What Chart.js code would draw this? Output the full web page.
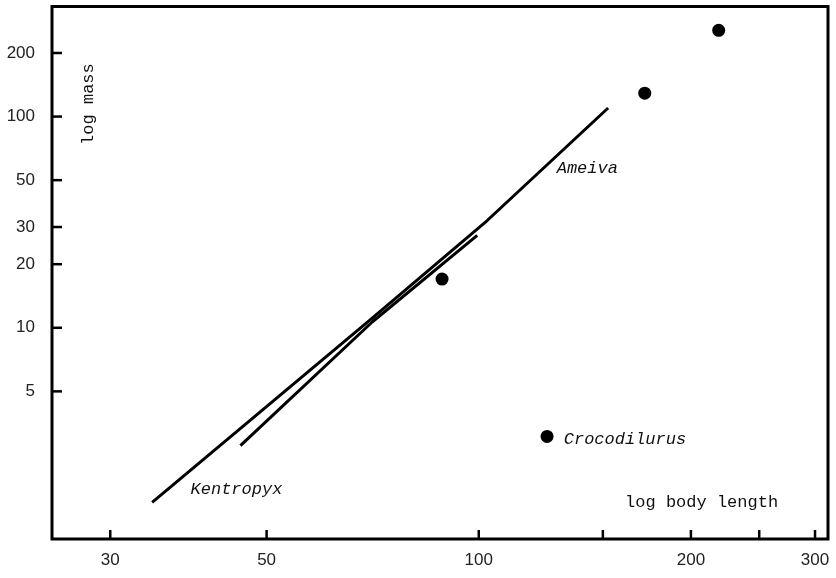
<!DOCTYPE html>
<html>
<head>
<meta charset="utf-8">
<script src="https://cdn.jsdelivr.net/npm/chart.js@4/dist/chart.umd.min.js"></script>
<style>
  body { margin: 0; background: #fff; }
  #wrap { width: 836px; height: 578px; }
</style>
</head>
<body>
<div id="wrap"><canvas id="chart"></canvas></div>
<script>
// axis ticks
const xTickValues = [30, 50, 100, 150, 200, 250, 300];
const xTickLabels = ["30", "50", "100", "", "200", "", "300"];
const yTickValues = [5, 10, 20, 30, 50, 100, 200];

// dots (body length, mass)
const dotLength = [219, 172, 88.7, 125];
const dotMass = [256, 129, 17.0, 3.06];

// long fitted line (Kentropyx -> Ameiva)
const longLineLength = [34.4, 70.6, 102.8, 152.6];
const longLineMass = [1.49, 11.1, 32.2, 109.8];

// short fitted line
const shortLineLength = [45.9, 70.6, 99.5];
const shortLineMass = [2.77, 10.65, 27.4];

// text labels placed in data units
const labelTexts = ["Ameiva", "Crocodilurus", "Kentropyx"];
const labelLength = [129, 132, 39];
const labelMass = [56.6, 2.96, 1.72];

const monoFont = "'Liberation Mono', 'DejaVu Sans Mono', monospace";
const numFont = "'Liberation Sans', Arial, sans-serif";

function toPoints(xs, ys) {
  return xs.map(function (x, i) {
    return { x: x, y: ys[i] };
  });
}

function noPadding(scale) {
  scale.paddingTop = 0;
  scale.paddingBottom = 0;
  scale.paddingLeft = 0;
  scale.paddingRight = 0;
}

const decorPlugin = {
  id: "decor",
  afterDatasetsDraw(chart) {
    const ctx = chart.ctx;
    const area = chart.chartArea;
    const xScale = chart.scales.x;
    const yScale = chart.scales.y;

    ctx.save();
    ctx.strokeStyle = "#000";
    ctx.lineWidth = 3;
    ctx.strokeRect(area.left, area.top, area.right - area.left, area.bottom - area.top);

    // inward ticks
    ctx.lineWidth = 2.5;
    xTickValues.forEach(function (v) {
      const px = xScale.getPixelForValue(v);
      ctx.beginPath();
      ctx.moveTo(px, area.bottom);
      ctx.lineTo(px, area.bottom - 9);
      ctx.stroke();
    });
    yTickValues.forEach(function (v) {
      const py = yScale.getPixelForValue(v);
      ctx.beginPath();
      ctx.moveTo(area.left, py);
      ctx.lineTo(area.left + 10, py);
      ctx.stroke();
    });

    // species labels
    ctx.fillStyle = "#111";
    ctx.textBaseline = "middle";
    ctx.textAlign = "left";
    ctx.font = "italic 17px " + monoFont;
    labelTexts.forEach(function (t, i) {
      ctx.fillText(t, xScale.getPixelForValue(labelLength[i]), yScale.getPixelForValue(labelMass[i]));
    });

    // axis titles
    ctx.font = "17px " + monoFont;
    ctx.fillText("log body length", xScale.getPixelForValue(161.3), yScale.getPixelForValue(1.49));

    ctx.translate(xScale.getPixelForValue(27.9), yScale.getPixelForValue(114.6));
    ctx.rotate(-Math.PI / 2);
    ctx.textAlign = "center";
    ctx.fillText("log mass", 0, 0);
    ctx.restore();
  }
};

const ctx = document.getElementById("chart").getContext("2d");

new Chart(ctx, {
  type: "scatter",
  data: {
    datasets: [
      {
        label: "species",
        data: toPoints(dotLength, dotMass),
        pointRadius: 6.5,
        pointBackgroundColor: "#000",
        pointBorderWidth: 0,
        showLine: false
      },
      {
        label: "long line",
        data: toPoints(longLineLength, longLineMass),
        showLine: true,
        pointRadius: 0,
        borderColor: "#000",
        borderWidth: 3,
        borderJoinStyle: "round",
        fill: false
      },
      {
        label: "short line",
        data: toPoints(shortLineLength, shortLineMass),
        showLine: true,
        pointRadius: 0,
        borderColor: "#000",
        borderWidth: 3,
        borderJoinStyle: "round",
        fill: false
      }
    ]
  },
  options: {
    responsive: true,
    maintainAspectRatio: false,
    animation: false,
    layout: { padding: { top: 5, right: 8, left: 0, bottom: 0 } },
    plugins: {
      legend: { display: false },
      tooltip: { enabled: false }
    },
    scales: {
      x: {
        type: "logarithmic",
        min: 24.8,
        max: 313,
        grid: { display: false, drawTicks: false },
        border: { display: false },
        afterBuildTicks: function (scale) {
          scale.ticks = xTickValues.map(function (v) { return { value: v }; });
        },
        afterFit: function (scale) {
          scale.height = 39;
          noPadding(scale);
        },
        ticks: {
          autoSkip: false,
          maxRotation: 0,
          padding: 11,
          color: "#222",
          font: { family: numFont, size: 17 },
          callback: function (value, index) {
            return xTickLabels[index];
          }
        }
      },
      y: {
        type: "logarithmic",
        min: 1,
        max: 332,
        grid: { display: false, drawTicks: false },
        border: { display: false },
        afterBuildTicks: function (scale) {
          scale.ticks = yTickValues.map(function (v) { return { value: v }; });
        },
        afterFit: function (scale) {
          scale.width = 52;
          noPadding(scale);
        },
        ticks: {
          autoSkip: false,
          padding: 17,
          color: "#222",
          font: { family: numFont, size: 17 },
          callback: function (value) {
            return String(value);
          }
        }
      }
    }
  },
  plugins: [decorPlugin]
});
</script>
</body>
</html>
